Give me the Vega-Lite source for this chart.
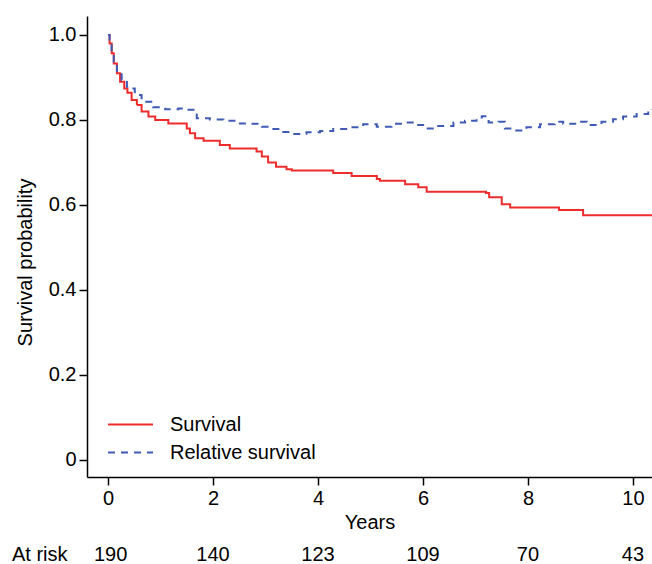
{
  "$schema": "https://vega.github.io/schema/vega-lite/v6.json",
  "width": 565,
  "height": 461,
  "autosize": {"type": "none"},
  "padding": {"left": 87, "top": 16, "right": 0, "bottom": 87},
  "background": "white",
  "config": {
    "view": {"stroke": null},
    "font": "Liberation Sans",
    "axis": {
      "domainColor": "black", "domainWidth": 1.5, "tickColor": "black", "tickWidth": 1.5, "tickSize": 8,
      "labelColor": "black", "labelFontSize": 20, "labelFont": "Liberation Sans",
      "titleColor": "black", "titleFontSize": 20, "titleFont": "Liberation Sans", "titleFontWeight": "normal",
      "grid": false, "labelPadding": 3
    },
    "legend": {"labelFontSize": 20, "labelFont": "Liberation Sans", "labelColor": "black"}
  },
  "datasets": {
    "curves": [
      {"t": 0, "s": 1.0, "series": "Survival"},
      {"t": 0.03, "s": 0.98, "series": "Survival"},
      {"t": 0.07, "s": 0.957, "series": "Survival"},
      {"t": 0.11, "s": 0.933, "series": "Survival"},
      {"t": 0.17, "s": 0.91, "series": "Survival"},
      {"t": 0.23, "s": 0.89, "series": "Survival"},
      {"t": 0.31, "s": 0.874, "series": "Survival"},
      {"t": 0.37, "s": 0.864, "series": "Survival"},
      {"t": 0.45, "s": 0.847, "series": "Survival"},
      {"t": 0.55, "s": 0.835, "series": "Survival"},
      {"t": 0.64, "s": 0.82, "series": "Survival"},
      {"t": 0.77, "s": 0.808, "series": "Survival"},
      {"t": 0.9, "s": 0.8, "series": "Survival"},
      {"t": 1.15, "s": 0.792, "series": "Survival"},
      {"t": 1.5, "s": 0.78, "series": "Survival"},
      {"t": 1.56, "s": 0.769, "series": "Survival"},
      {"t": 1.66, "s": 0.757, "series": "Survival"},
      {"t": 1.82, "s": 0.751, "series": "Survival"},
      {"t": 2.13, "s": 0.741, "series": "Survival"},
      {"t": 2.32, "s": 0.733, "series": "Survival"},
      {"t": 2.83, "s": 0.726, "series": "Survival"},
      {"t": 2.93, "s": 0.714, "series": "Survival"},
      {"t": 3.05, "s": 0.70, "series": "Survival"},
      {"t": 3.2, "s": 0.69, "series": "Survival"},
      {"t": 3.4, "s": 0.684, "series": "Survival"},
      {"t": 3.5, "s": 0.681, "series": "Survival"},
      {"t": 4.29, "s": 0.675, "series": "Survival"},
      {"t": 4.64, "s": 0.668, "series": "Survival"},
      {"t": 5.12, "s": 0.661, "series": "Survival"},
      {"t": 5.18, "s": 0.657, "series": "Survival"},
      {"t": 5.66, "s": 0.649, "series": "Survival"},
      {"t": 5.91, "s": 0.642, "series": "Survival"},
      {"t": 6.07, "s": 0.631, "series": "Survival"},
      {"t": 7.2, "s": 0.628, "series": "Survival"},
      {"t": 7.26, "s": 0.618, "series": "Survival"},
      {"t": 7.5, "s": 0.602, "series": "Survival"},
      {"t": 7.66, "s": 0.594, "series": "Survival"},
      {"t": 8.59, "s": 0.588, "series": "Survival"},
      {"t": 9.05, "s": 0.576, "series": "Survival"},
      {"t": 10.362, "s": 0.576, "series": "Survival"},
      {"t": 0, "s": 1.0, "series": "Relative survival"},
      {"t": 0.03, "s": 0.98, "series": "Relative survival"},
      {"t": 0.07, "s": 0.96, "series": "Relative survival"},
      {"t": 0.11, "s": 0.937, "series": "Relative survival"},
      {"t": 0.17, "s": 0.915, "series": "Relative survival"},
      {"t": 0.26, "s": 0.894, "series": "Relative survival"},
      {"t": 0.36, "s": 0.878, "series": "Relative survival"},
      {"t": 0.42, "s": 0.874, "series": "Relative survival"},
      {"t": 0.51, "s": 0.859, "series": "Relative survival"},
      {"t": 0.64, "s": 0.851, "series": "Relative survival"},
      {"t": 0.7, "s": 0.843, "series": "Relative survival"},
      {"t": 0.86, "s": 0.83, "series": "Relative survival"},
      {"t": 1.09, "s": 0.825, "series": "Relative survival"},
      {"t": 1.34, "s": 0.827, "series": "Relative survival"},
      {"t": 1.5, "s": 0.824, "series": "Relative survival"},
      {"t": 1.69, "s": 0.804, "series": "Relative survival"},
      {"t": 1.94, "s": 0.801, "series": "Relative survival"},
      {"t": 2.2, "s": 0.798, "series": "Relative survival"},
      {"t": 2.45, "s": 0.792, "series": "Relative survival"},
      {"t": 2.7, "s": 0.791, "series": "Relative survival"},
      {"t": 2.93, "s": 0.784, "series": "Relative survival"},
      {"t": 3.12, "s": 0.779, "series": "Relative survival"},
      {"t": 3.34, "s": 0.772, "series": "Relative survival"},
      {"t": 3.5, "s": 0.767, "series": "Relative survival"},
      {"t": 3.78, "s": 0.771, "series": "Relative survival"},
      {"t": 4.04, "s": 0.774, "series": "Relative survival"},
      {"t": 4.29, "s": 0.779, "series": "Relative survival"},
      {"t": 4.58, "s": 0.783, "series": "Relative survival"},
      {"t": 4.86, "s": 0.79, "series": "Relative survival"},
      {"t": 5.12, "s": 0.784, "series": "Relative survival"},
      {"t": 5.4, "s": 0.791, "series": "Relative survival"},
      {"t": 5.63, "s": 0.794, "series": "Relative survival"},
      {"t": 5.88, "s": 0.788, "series": "Relative survival"},
      {"t": 6.07, "s": 0.78, "series": "Relative survival"},
      {"t": 6.29, "s": 0.786, "series": "Relative survival"},
      {"t": 6.58, "s": 0.794, "series": "Relative survival"},
      {"t": 6.8, "s": 0.798, "series": "Relative survival"},
      {"t": 7.02, "s": 0.806, "series": "Relative survival"},
      {"t": 7.12, "s": 0.809, "series": "Relative survival"},
      {"t": 7.25, "s": 0.794, "series": "Relative survival"},
      {"t": 7.44, "s": 0.796, "series": "Relative survival"},
      {"t": 7.56, "s": 0.78, "series": "Relative survival"},
      {"t": 7.69, "s": 0.775, "series": "Relative survival"},
      {"t": 7.97, "s": 0.783, "series": "Relative survival"},
      {"t": 8.23, "s": 0.79, "series": "Relative survival"},
      {"t": 8.51, "s": 0.796, "series": "Relative survival"},
      {"t": 8.67, "s": 0.791, "series": "Relative survival"},
      {"t": 8.93, "s": 0.796, "series": "Relative survival"},
      {"t": 9.12, "s": 0.788, "series": "Relative survival"},
      {"t": 9.4, "s": 0.796, "series": "Relative survival"},
      {"t": 9.62, "s": 0.802, "series": "Relative survival"},
      {"t": 9.81, "s": 0.808, "series": "Relative survival"},
      {"t": 10.07, "s": 0.814, "series": "Relative survival"},
      {"t": 10.29, "s": 0.822, "series": "Relative survival"},
      {"t": 10.362, "s": 0.826, "series": "Relative survival"}
    ],
    "risk": [
      {"t": -1.3, "label": "At risk"},
      {"t": 0.05, "label": "190"},
      {"t": 2, "label": "140"},
      {"t": 4, "label": "123"},
      {"t": 6, "label": "109"},
      {"t": 8, "label": "70"},
      {"t": 10, "label": "43"}
    ]
  },
  "layer": [
    {
      "data": {"name": "curves"},
      "mark": {"type": "line", "interpolate": "step-after", "strokeWidth": 2},
      "encoding": {
        "x": {
          "field": "t", "type": "quantitative",
          "scale": {"domain": [-0.4, 10.362], "nice": false, "zero": false},
          "axis": {"values": [0, 2, 4, 6, 8, 10], "title": "Years", "titlePadding": 4}
        },
        "y": {
          "field": "s", "type": "quantitative",
          "scale": {"domain": [-0.04, 1.0447], "nice": false, "zero": false},
          "axis": {
            "values": [0, 0.2, 0.4, 0.6, 0.8, 1.0],
            "labelExpr": "datum.value == 0 ? '0' : format(datum.value, '.1f')",
            "title": "Survival probability", "titlePadding": 13, "titleY": 246
          }
        },
        "color": {
          "field": "series", "type": "nominal",
          "scale": {"domain": ["Survival", "Relative survival"], "range": ["#ee2c2c", "#3f5bb5"]},
          "legend": {
            "title": null, "orient": "none", "legendX": 31, "legendY": 396, "padding": 0,
            "symbolType": "M-2,0H2", "symbolSize": 506, "symbolStrokeWidth": 2,
            "labelOffset": 27, "rowPadding": 5
          }
        },
        "strokeDash": {
          "field": "series", "type": "nominal",
          "scale": {"domain": ["Survival", "Relative survival"], "range": [[1, 0], [7, 6]]},
          "legend": {
            "title": null, "orient": "none", "legendX": 31, "legendY": 396, "padding": 0,
            "symbolType": "M-2,0H2", "symbolSize": 506, "symbolStrokeWidth": 2,
            "labelOffset": 27, "rowPadding": 5
          }
        }
      }
    },
    {
      "data": {"name": "risk"},
      "mark": {"type": "text", "fontSize": 20, "font": "Liberation Sans", "color": "black", "align": "center", "baseline": "middle", "clip": false},
      "encoding": {
        "x": {"field": "t", "type": "quantitative"},
        "y": {"datum": -0.2235},
        "text": {"field": "label"}
      }
    }
  ]
}
